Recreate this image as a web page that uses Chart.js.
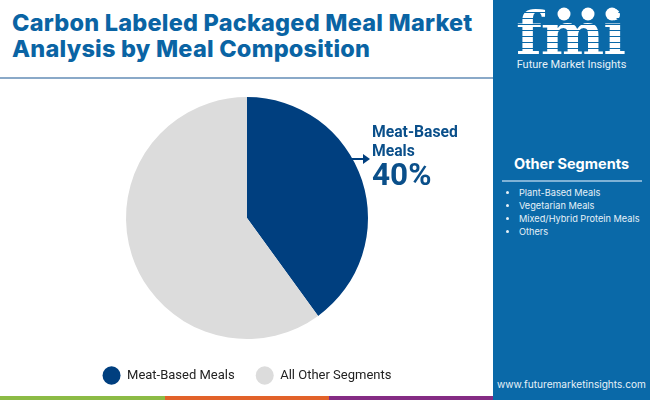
<!DOCTYPE html>
<html>
<head>
<meta charset="utf-8">
<script src="https://cdn.jsdelivr.net/npm/chart.js@4"></script>
<style>
  html, body { margin: 0; padding: 0; background: #fff; }
  #page { position: relative; width: 650px; height: 400px; overflow: hidden; font-family: Roboto, sans-serif; }
  #title { position: absolute; left: 12px; top: 10px; font: 800 23.5px/26px Inter, "Open Sans", sans-serif; color: #0a64a4; letter-spacing: 0.22px; white-space: nowrap; }
  #rule { position: absolute; left: 0; top: 77px; width: 493px; height: 2px; background: #8aa9c8; }
  #chartBox { position: absolute; left: 0; top: 0; width: 494px; height: 396px; }
  #side { position: absolute; left: 493px; top: 0; width: 157px; height: 400px; background: #0a69a8; color: #fff; }
  #side .head { position: absolute; left: 0; width: 157px; top: 154px; text-align: center; font: 700 14.5px/20px Inter, sans-serif; }
  #side .line { position: absolute; left: 9px; top: 180px; width: 140px; height: 2px; background: #7fb2d6; }
  #side ul { position: absolute; left: 10px; top: 186px; margin: 0; padding: 0 0 0 16px; font: 400 9.2px/13px Inter, sans-serif; color: #e6f1f8; white-space: nowrap; }
  #side .url { position: absolute; left: 0; width: 157px; top: 377px; text-align: center; font: 400 10.1px/14px Inter, sans-serif; color: #e6f1f8; }
  #side .fmi { position: absolute; left: 23px; top: 2px; font: 700 60px/64px "DejaVu Serif", serif; color: #fff; letter-spacing: -1px; }
  #side .stripes { position: absolute; left: 20px; top: 12px; width: 116px; height: 44px; background: repeating-linear-gradient(#0a69a8 0 1px, transparent 1px 6px); }
  #side .brand { position: absolute; left: 0; width: 157px; top: 58px; text-align: center; font: 400 11px/14px Roboto, sans-serif; color: #e6f1f8; }
  #callout { position: absolute; left: 372px; top: 123px; color: #0a4f8a; font: 700 15.7px/18.5px Roboto, sans-serif; }
  #callout b { display: block; font: 700 31.5px/30px Roboto, sans-serif; }
  #arrow { position: absolute; left: 349px; top: 152px; }
  .strip { position: absolute; top: 396px; height: 4px; }
</style>
</head>
<body>
<div id="page">
  <div id="title">Carbon Labeled Packaged Meal Market<br>Analysis by Meal Composition</div>
  <div id="rule"></div>
  <div id="chartBox"><canvas id="pie"></canvas></div>
  <svg id="arrow" width="24" height="14"><path d="M0 7H15" stroke="#003f7f" stroke-width="2"/><path d="M14 2L21 7L14 12Z" fill="#003f7f"/></svg>
  <div id="callout">Meat-Based<br>Meals<b>40%</b></div>
  <div class="strip" style="left:0;width:165px;background:#8cbb45"></div>
  <div class="strip" style="left:165px;width:164px;background:#e2622a"></div>
  <div class="strip" style="left:329px;width:164px;background:#852c84"></div>
  <div id="side">
    <div class="fmi">fmi</div>
    <div class="stripes"></div>
    <svg style="position:absolute;left:55px;top:3px" width="90" height="24">
      <circle cx="16" cy="11" r="6.5" fill="#fff"/><circle cx="40" cy="11" r="6.5" fill="#fff"/><circle cx="64" cy="11" r="6.5" fill="#fff"/>
    </svg>
    <div class="brand">Future Market Insights</div>
    <div class="head">Other Segments</div>
    <div class="line"></div>
    <ul id="others"></ul>
    <div class="url">www.futuremarketinsights.com</div>
  </div>
</div>
<script>
const categories = ['Meat-Based Meals', 'All Other Segments'];
const shares = [40, 60];
const sliceColors = ['#003f7f', '#dcdcdc'];
const otherSegments = ['Plant-Based Meals', 'Vegetarian Meals', 'Mixed/Hybrid Protein Meals', 'Others'];

document.getElementById('others').innerHTML = otherSegments.map(s => '<li>' + s + '</li>').join('');

new Chart(document.getElementById('pie'), {
  type: 'pie',
  data: {
    labels: categories,
    datasets: [{ data: shares, backgroundColor: sliceColors, borderWidth: 0, radius: 121 }]
  },
  options: {
    responsive: true,
    maintainAspectRatio: false,
    animation: false,
    layout: { padding: { top: 88, bottom: 4 } },
    plugins: {
      tooltip: { enabled: false },
      legend: {
        position: 'bottom',
        labels: {
          usePointStyle: true,
          pointStyle: 'circle',
          pointStyleWidth: 18,
          padding: 21,
          color: '#222',
          font: { family: 'Roboto', size: 13 }
        }
      }
    }
  }
});
</script>
</body>
</html>
